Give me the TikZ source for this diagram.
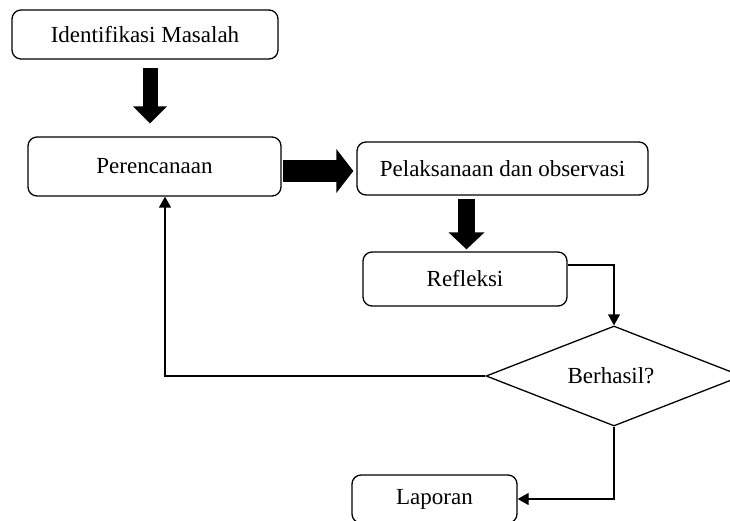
\documentclass[tikz,border=0pt]{standalone}
\usepackage{fontspec}
\setmainfont{Liberation Serif}
\usetikzlibrary{shapes.geometric,arrows.meta}
\tikzset{
  box/.style={draw, line width=1.3pt, rounded corners=9pt, inner sep=0pt, font=\fontsize{23}{27}\selectfont},
  dec/.style={draw, diamond, line width=1.3pt, inner sep=0pt, minimum width=256pt, minimum height=100pt},
  thin/.style={line width=1.3pt, -{Triangle[length=11pt,width=12pt]}},
  plain/.style={line width=1.3pt},
  blk/.style={line cap=butt, -{Triangle[length=17pt,width=#1]}},
}
\begin{document}
\begin{tikzpicture}[x=1pt,y=-1pt]
\useasboundingbox (0,0) rectangle (730,521);
\node[box, minimum width=266pt, minimum height=49pt] (ident) at (145,34.5) {Identifikasi Masalah};
\node[box, minimum width=253pt, minimum height=59pt] (peren) at (154.5,166.5) {Perencanaan};
\node[box, minimum width=291pt, minimum height=53pt] (pelak) at (502.5,168.5) {Pelaksanaan dan observasi};
\node[box, minimum width=204pt, minimum height=54pt] (refl) at (465,279) {Refleksi};
\node[dec, label={[font=\fontsize{23}{27}\selectfont, xshift=-3pt]center:Berhasil?}] (dec) at (614,376) {};
\node[box, minimum width=165pt, minimum height=48pt] (lap) at (434.5,499) {Laporan};
% block arrows
\draw[blk=33pt, line width=15pt, shorten <=8pt, shorten >=13pt] ([xshift=5pt]ident.south) -- ([xshift=-4.5pt]peren.north);
\draw[blk=43pt, line width=22pt, shorten <=1pt, shorten >=3pt] ([yshift=-4.5pt]peren.east) -- ([yshift=-2.5pt]pelak.west);
\draw[blk=35pt, line width=17pt, shorten <=3pt, shorten >=2pt] ([xshift=-36pt]pelak.south) -- ([xshift=1.5pt]refl.north);
% thin connectors
\draw[thin] ([yshift=14pt]refl.east) -| (dec.north);
\draw[thin] (dec.west) -| ([xshift=10.5pt]peren.south);
\draw[thin] (dec.south) |- (lap.east);
\end{tikzpicture}
\end{document}
